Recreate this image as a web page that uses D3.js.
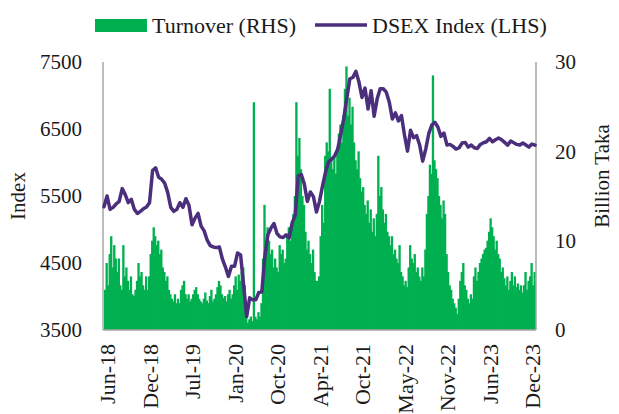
<!DOCTYPE html>
<html><head><meta charset="utf-8">
<script src="https://cdn.jsdelivr.net/npm/d3@7"></script>
<style>
html,body{margin:0;padding:0;background:#fff;}
svg{display:block;}
text{font-family:"Liberation Serif","Times New Roman",serif;fill:#1a1a1a;}
</style></head>
<body><svg id="c" width="619" height="414"></svg>
<script>
// ---- data ----
const tickLabels = ["Jun-18","Dec-18","Jul-19","Jan-20","Oct-20","Apr-21","Oct-21","May-22","Nov-22","Jun-23","Dec-23"];
const tickIndex = [1,15,29,43,57,71,85,99,113,127,141];
// DSEX index, roughly every 2 weeks (LHS)
const dsex = [5340,5500,5300,5330,5380,5420,5610,5520,5400,5450,
5300,5240,5270,5310,5335,5400,5880,5920,5780,5750,
5690,5550,5330,5270,5300,5400,5330,5460,5360,5070,
5170,5240,5050,4980,4840,4760,4740,4730,4740,4560,
4440,4300,4450,4450,4650,4620,4170,3700,3980,3950,
3950,4060,4070,4600,4920,5020,5090,4940,4890,4880,
4920,4875,5100,5215,5800,5820,5680,5420,5560,5490,
5260,5420,5650,5860,6010,6050,6100,6200,6420,6660,
6960,7250,7270,7360,7200,6970,7110,6800,7070,6690,
6950,7100,7100,7050,6900,6650,6740,6620,6700,6410,
6170,6480,6370,6400,6260,6020,6200,6430,6560,6600,
6530,6390,6440,6260,6270,6240,6200,6220,6290,6300,
6230,6260,6220,6210,6270,6295,6310,6360,6310,6340,
6365,6340,6300,6260,6320,6295,6270,6260,6290,6260,
6230,6275,6260];
// Turnover, billion Taka, roughly weekly (RHS)
const turnover = [
4.5,7.5,5,8.5,10.5,7,9.5,8,6.5,8,5,4.5,9.5,6,7,5.5,4.5,6,4,3.8,4.5,5.5,7.5,6,6.5,5,4.5,6,
4.5,6,8.5,10,11.5,10.5,9.5,10,8.5,9,7,6.5,5.5,6,4.5,4,3.5,3.2,4,3,3.5,3,4.5,5,5.5,4,3.5,4,
3.2,3.5,4,4.5,4.8,4,3.5,3.2,3,3.5,4.2,3.3,3,3.8,4.5,3.2,3.5,4,4.8,5.5,5,4,3.6,3.8,3.2,4,4.5,3.5,
4,5,6,4.5,6.2,5.5,6.5,7,5,2.5,0.8,1.2,1.5,1,25.5,1.5,1.2,2,1.5,3,8,14,10,11.5,10,8.5,9,7,
8,7,6.5,9.5,8.5,9,7.5,8,10.5,11.5,10,12,13,15,25.5,19.5,21.5,18,15,14,11,9,10,8.5,7.5,9,6.5,5.5,
5.5,6,10.5,14,12,19.5,21,20,27,19,18,19.5,17.5,20,22,23,21,24,27,29.5,24,26,23,25,21,19,18,20,
17,15.5,16,14,13,14.5,12,13.5,11,12.5,10.5,13,19.5,15,16,13.5,12,13,11,10.5,9.5,10.5,8.5,9,8,7.5,9.5,6.5,
6,5,5.5,4.8,7,9.5,8,7.5,8.5,6.5,7,6,5.5,7,6,9,13,15,18.5,17.5,28.5,19,18,17,15,14,12.5,14.5,
13,8.5,6.5,5,4.5,3.5,3,2.5,1.8,3.5,5.5,6.5,7.5,5,4.5,3.5,3,4,3.5,6,7,5.5,6.5,7.5,8,8.5,9,9.2,
10,11,12.5,11.5,10.5,9,10,8.5,8,6.5,7,5.8,5,6,4.5,5.5,6.5,5,6,4.8,5.2,4.5,5,4.2,5,6.5,4.5,5.5,
6,7.5,5,6.5,5.5];
const leftTicks = [3500,4500,5500,6500,7500];
const rightTicks = [0,10,20,30];

// ---- chart ----
const svg = d3.select("#c");
const L = 103, R = 536, T = 62, B = 330;
const GREEN = "#00b050", PURPLE = "#4b2e7c", AXIS = "#a6a6a6";

const x = d3.scaleLinear().domain([0, dsex.length - 1]).range([104, 535]);
const yL = d3.scaleLinear().domain([3500, 7500]).range([B, T]);
const yR = d3.scaleLinear().domain([0, 30]).range([B, T]);
const bw = x(1 / 2) - x(0);

// bars (drawn as one area-like step shape so there are no hairline gaps)
const barG = svg.append("g");
barG.selectAll("rect").data(turnover).join("rect")
  .attr("x", (d, i) => x(i / 2))
  .attr("width", (d, i) => Math.min(bw + 0.8, R - x(i / 2)))
  .attr("y", d => yR(d))
  .attr("height", d => yR(0) - yR(d))
  .attr("fill", GREEN);

// axes
const gl = svg.append("g").attr("transform", `translate(${L},0)`)
  .call(d3.axisLeft(yL).tickValues(leftTicks).tickSize(0).tickPadding(21).tickFormat(d3.format("d")));
const gr = svg.append("g").attr("transform", `translate(${R},0)`)
  .call(d3.axisRight(yR).tickValues(rightTicks).tickSize(0).tickPadding(19).tickFormat(d3.format("d")));
const gb = svg.append("g").attr("transform", `translate(0,${B})`)
  .call(d3.axisBottom(x).tickValues(tickIndex).tickSize(0).tickFormat((d, i) => tickLabels[i]));
[gl, gr, gb].forEach(g => {
  g.select(".domain").attr("stroke", AXIS).attr("stroke-width", 1.5);
  g.selectAll("text").style("font-size", "21px").attr("fill", "#1a1a1a");
});
gl.select(".domain").attr("d", `M0,${T}V${B}`);
gr.select(".domain").attr("d", `M0,${T}V${B}`);
gb.select(".domain").attr("d", `M${L},0H${R}`);
gb.selectAll("text")
  .style("font-size", "22px")
  .attr("transform", "rotate(-90)")
  .attr("x", -14).attr("y", 0).attr("dy", "0.35em")
  .attr("text-anchor", "end");

// line
svg.append("path").datum(dsex)
  .attr("fill", "none").attr("stroke", PURPLE).attr("stroke-width", 3.5)
  .attr("stroke-linejoin", "round").attr("stroke-linecap", "round")
  .attr("d", d3.line().x((d, i) => x(i)).y(d => yL(d)));

// axis titles
svg.append("text").attr("transform", `translate(25,${(T + B) / 2}) rotate(-90)`)
  .attr("text-anchor", "middle").style("font-size", "21px").text("Index");
svg.append("text").attr("transform", `translate(602,176) rotate(-90)`)
  .attr("text-anchor", "middle").attr("dy", "0.35em").style("font-size", "21px").text("Billion Taka");

// legend
const lg = svg.append("g");
lg.append("rect").attr("x", 95).attr("y", 19).attr("width", 52).attr("height", 13).attr("fill", GREEN);
lg.append("text").attr("x", 152).attr("y", 33).style("font-size", "22px").text("Turnover (RHS)");
lg.append("line").attr("x1", 315).attr("x2", 367).attr("y1", 25).attr("y2", 25)
  .attr("stroke", PURPLE).attr("stroke-width", 3.5);
lg.append("text").attr("x", 372).attr("y", 33).style("font-size", "22px").text("DSEX Index (LHS)");
</script></body></html>
